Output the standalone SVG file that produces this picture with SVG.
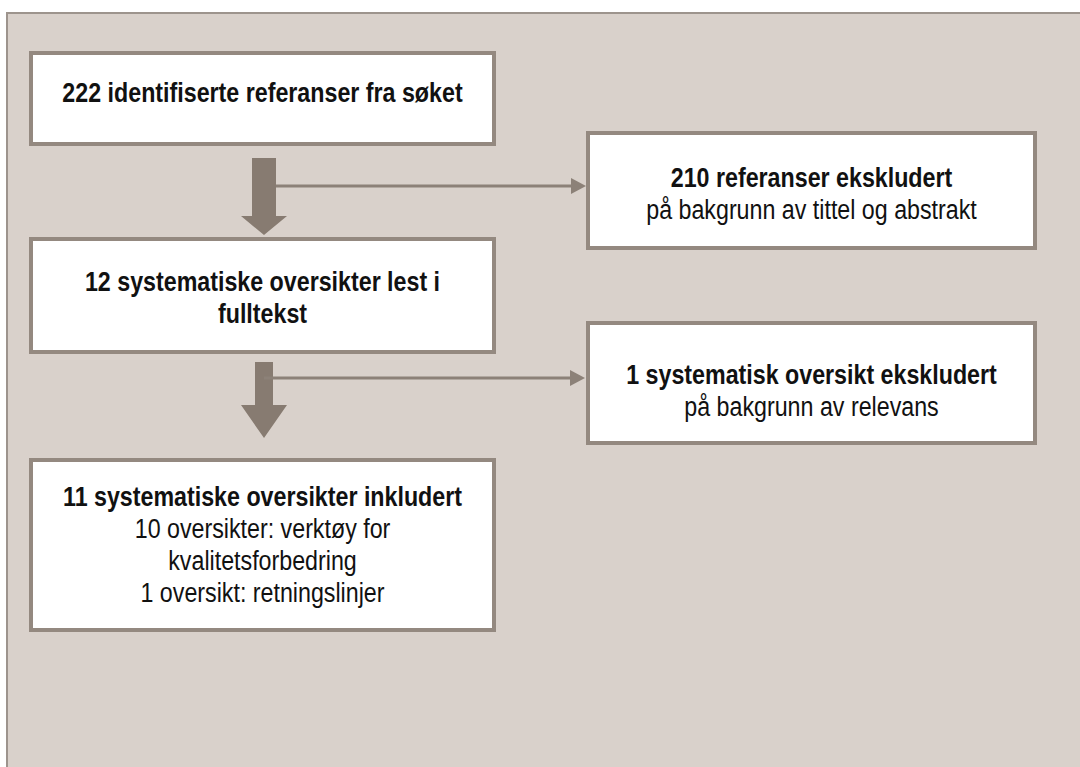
<svg xmlns="http://www.w3.org/2000/svg" width="1080" height="767" viewBox="0 0 1080 767">
  <style>
    .frame { fill: #d9d1cb; stroke: #9d948d; stroke-width: 2; }
    .box { fill: #ffffff; stroke: #948980; stroke-width: 4; }
    .big { fill: #877b71; }
    .line { stroke: #8c8178; stroke-width: 3; fill: none; }
    .head { fill: #8c8178; }
    text { font-family: "Liberation Sans", Arial, sans-serif; font-size: 28px; fill: #111111; text-anchor: middle; }
    .b { font-weight: bold; }
  </style>
  <rect x="0" y="0" width="1080" height="767" fill="#ffffff"/>
  <rect class="frame" x="7" y="13" width="1100" height="800"/>

  <g id="connectors">
    <polygon class="big" points="252,158 276,158 276,216 287,216 264,235 241,216 252,216"/>
    <polygon class="big" points="255,362 273,362 273,405 287,405 264,438 241,405 255,405"/>
    <line class="line" x1="276" y1="186" x2="572" y2="186"/>
    <polygon class="head" points="571,178 586,186 571,194"/>
    <line class="line" x1="264" y1="378" x2="571" y2="378"/>
    <polygon class="head" points="570,370 585,378 570,386"/>
  </g>

  <g id="node-identified">
    <rect class="box" x="31" y="53" width="463" height="91"/>
    <text class="b" transform="translate(262.5,102) scale(0.83,1)">222 identifiserte referanser fra søket</text>
  </g>

  <g id="node-excluded-refs">
    <rect class="box" x="588" y="133" width="447" height="115"/>
    <text class="b" transform="translate(811.5,187) scale(0.83,1)">210 referanser ekskludert</text>
    <text transform="translate(811.5,219) scale(0.83,1)">på bakgrunn av tittel og abstrakt</text>
  </g>

  <g id="node-fulltext">
    <rect class="box" x="31" y="239" width="463" height="113"/>
    <text class="b" transform="translate(262.5,291) scale(0.83,1)">12 systematiske oversikter lest i</text>
    <text class="b" transform="translate(262.5,323) scale(0.83,1)">fulltekst</text>
  </g>

  <g id="node-excluded-review">
    <rect class="box" x="588" y="323" width="447" height="120"/>
    <text class="b" transform="translate(811.5,384) scale(0.83,1)">1 systematisk oversikt ekskludert</text>
    <text transform="translate(811.5,416) scale(0.83,1)">på bakgrunn av relevans</text>
  </g>

  <g id="node-included">
    <rect class="box" x="31" y="460" width="463" height="170"/>
    <text class="b" transform="translate(262.5,506) scale(0.83,1)">11 systematiske oversikter inkludert</text>
    <text transform="translate(262.5,538) scale(0.83,1)">10 oversikter: verktøy for</text>
    <text transform="translate(262.5,570) scale(0.83,1)">kvalitetsforbedring</text>
    <text transform="translate(262.5,602) scale(0.83,1)">1 oversikt: retningslinjer</text>
  </g>
</svg>
